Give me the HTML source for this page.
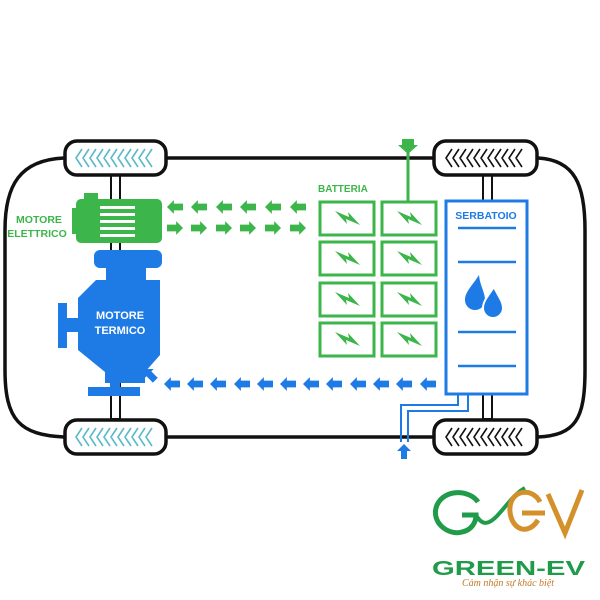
<!DOCTYPE html>
<html><head><meta charset="utf-8"><style>body{margin:0;background:#fff}svg{display:block}</style></head><body>
<svg width="600" height="600" viewBox="0 0 600 600" xmlns="http://www.w3.org/2000/svg" font-family="Liberation Sans, sans-serif">
<defs>
<symbol id="al" viewBox="0 0 14 12"><path d="M0 6 L6 0 L6 3 L14 3 L14 9 L6 9 L6 12 Z"/></symbol>
<symbol id="ar" viewBox="0 0 14 12"><path d="M14 6 L8 0 L8 3 L0 3 L0 9 L8 9 L8 12 Z"/></symbol>
<g id="tread" fill="none" stroke-width="1.6">
<path d="M8 2 l-6 9 l6 9 M15 2 l-6 9 l6 9 M22 2 l-6 9 l6 9 M29 2 l-6 9 l6 9 M36 2 l-6 9 l6 9 M43 2 l-6 9 l6 9 M50 2 l-6 9 l6 9 M57 2 l-6 9 l6 9 M64 2 l-6 9 l6 9 M71 2 l-6 9 l6 9 M78 2 l-6 9 l6 9"/>
</g>
<g id="bolt"><path d="M-12 -7 L2 -1 L1 -6 L13 7 L-1 1 L0 6 Z" fill="#3cb54a"/></g>
</defs>
<path d="M166 158 H433 M538 158 C575 160 585 185 585 230 V370 C585 420 575 435 538 437 M433 437 H166 M64 437 C20 435 5 420 5 370 V230 C5 185 20 160 64 158" fill="none" stroke="#111" stroke-width="3.5"/>
<rect x="111" y="175" width="9" height="244" fill="#fff" stroke="#111" stroke-width="2"/>
<rect x="483" y="175" width="9" height="244" fill="#fff" stroke="#111" stroke-width="2"/>
<g stroke="#111" stroke-width="3.5" fill="#fff">
<rect x="65" y="141" width="101" height="34" rx="12"/>
<rect x="65" y="420" width="101" height="34" rx="12"/>
<rect x="434" y="141" width="103" height="34" rx="12"/>
<rect x="434" y="420" width="103" height="34" rx="12"/>
</g>
<use href="#tread" x="74" y="147" stroke="#5ab9c8"/>
<use href="#tread" x="74" y="426" stroke="#5ab9c8"/>
<use href="#tread" x="444" y="147" stroke="#111"/>
<use href="#tread" x="444" y="426" stroke="#111"/>
<g fill="#3cb54a">
<rect x="84" y="193" width="14" height="8"/>
<rect x="76" y="199" width="86" height="44" rx="5"/>
<rect x="72" y="208" width="6" height="26"/>
</g>
<g fill="#fff"><rect x="100" y="206" width="35" height="3"/><rect x="100" y="213" width="35" height="3"/><rect x="100" y="220" width="35" height="3"/><rect x="100" y="227" width="35" height="3"/><rect x="100" y="234" width="35" height="3"/></g>
<text x="39" y="223" font-size="10.5" font-weight="bold" fill="#3cb54a" text-anchor="middle">MOTORE</text>
<text x="37" y="237" font-size="10.5" font-weight="bold" fill="#3cb54a" text-anchor="middle">ELETTRICO</text>
<g fill="#3cb54a">
<use href="#al" x="167" y="200" width="16" height="14"/><use href="#al" x="191" y="200" width="16" height="14"/><use href="#al" x="216" y="200" width="16" height="14"/><use href="#al" x="240" y="200" width="16" height="14"/><use href="#al" x="265" y="200" width="16" height="14"/><use href="#al" x="290" y="200" width="16" height="14"/>
<use href="#ar" x="167" y="221" width="16" height="14"/><use href="#ar" x="191" y="221" width="16" height="14"/><use href="#ar" x="216" y="221" width="16" height="14"/><use href="#ar" x="240" y="221" width="16" height="14"/><use href="#ar" x="265" y="221" width="16" height="14"/><use href="#ar" x="290" y="221" width="16" height="14"/>
</g>
<g fill="#1e7be6">
<rect x="94" y="250" width="68" height="18" rx="6"/>
<rect x="106" y="264" width="40" height="16"/>
<path d="M96 280 H160 V355 L145 372 V383 H105 V372 L78 350 V298 Z"/>
<rect x="58" y="303" width="9" height="45"/>
<rect x="64" y="318" width="16" height="14"/>
<rect x="88" y="387" width="52" height="9"/>
<rect x="110" y="380" width="10" height="10"/>
</g>
<text x="120" y="319" font-size="11" font-weight="bold" fill="#fff" text-anchor="middle">MOTORE</text>
<text x="120" y="334" font-size="11" font-weight="bold" fill="#fff" text-anchor="middle">TERMICO</text>
<g fill="#1e7be6">
<use href="#al" x="164" y="377" width="16" height="14"/><use href="#al" x="187" y="377" width="16" height="14"/><use href="#al" x="210" y="377" width="16" height="14"/><use href="#al" x="234" y="377" width="16" height="14"/><use href="#al" x="257" y="377" width="16" height="14"/><use href="#al" x="280" y="377" width="16" height="14"/><use href="#al" x="303" y="377" width="16" height="14"/><use href="#al" x="326" y="377" width="16" height="14"/><use href="#al" x="350" y="377" width="16" height="14"/><use href="#al" x="373" y="377" width="16" height="14"/><use href="#al" x="396" y="377" width="16" height="14"/><use href="#al" x="420" y="377" width="16" height="14"/>
<use href="#al" x="0" y="0" width="16" height="14" transform="translate(149 364) rotate(45)"/>
</g>
<text x="318" y="192" font-size="10" font-weight="bold" fill="#3cb54a">BATTERIA</text>
<g fill="none" stroke="#3cb54a" stroke-width="3">
<rect x="320" y="202" width="54" height="33"/><rect x="382" y="202" width="54" height="33"/>
<rect x="320" y="242" width="54" height="33"/><rect x="382" y="242" width="54" height="33"/>
<rect x="320" y="283" width="54" height="33"/><rect x="382" y="283" width="54" height="33"/>
<rect x="320" y="323" width="54" height="33"/><rect x="382" y="323" width="54" height="33"/>
<path d="M408 147 V202"/>
</g>
<path d="M402 139 H414 V145 H418 L408 154 L398 145 H402 Z" fill="#3cb54a"/>
<use href="#bolt" x="347" y="218"/><use href="#bolt" x="409" y="218"/>
<use href="#bolt" x="347" y="258"/><use href="#bolt" x="409" y="258"/>
<use href="#bolt" x="347" y="299"/><use href="#bolt" x="409" y="299"/>
<use href="#bolt" x="347" y="339"/><use href="#bolt" x="409" y="339"/>
<rect x="446" y="201" width="81" height="193" fill="#fff" stroke="#1e7be6" stroke-width="3"/>
<text x="486" y="219" font-size="10.5" font-weight="bold" fill="#1e7be6" text-anchor="middle">SERBATOIO</text>
<g stroke="#1e7be6" stroke-width="2.5"><path d="M458 228 H516 M458 262 H516 M458 332 H516 M458 366 H516"/></g>
<g fill="#1e7be6">
<path d="M479 275 C472 286 465 292 465 300 A10 10 0 0 0 485 300 C485 292 480 286 479 275 Z"/>
<path d="M494 287 C488 296 483 301 483 308 A10 10 0 0 0 503 308 C503 301 498 296 494 287 Z" stroke="#fff" stroke-width="2"/>
</g>
<path d="M458 394 V405 H401 V442 M468 394 V411 H408 V442" fill="none" stroke="#1e7be6" stroke-width="2"/>
<path d="M404 444 L411 451 H407 V459 H401 V451 H397 Z" fill="#1e7be6"/>
<g fill="none" stroke-width="5">
<path d="M478 502 C470 490 445 488 437 505 C430 522 448 536 462 532 C472 530 476 522 476 515 H462" stroke="#1f9b4a"/>
<path d="M476 515 C490 540 505 498 525 488" stroke="#1f9b4a" stroke-width="4"/>
<path d="M540 502 C532 486 508 490 510 512 C512 530 528 536 538 520 M522 513 H545" stroke="#d4902a"/>
<path d="M548 494 L565 533 L582 490" stroke="#d4902a"/>
</g>
<text x="432" y="575" font-size="20" font-weight="bold" fill="#1f9b4a" textLength="153" lengthAdjust="spacingAndGlyphs">GREEN-EV</text>
<text x="508" y="586" font-size="10" font-style="italic" fill="#c07a2a" text-anchor="middle" font-family="Liberation Serif, serif">Cảm nhận sự khác biệt</text>
</svg>
</body></html>
